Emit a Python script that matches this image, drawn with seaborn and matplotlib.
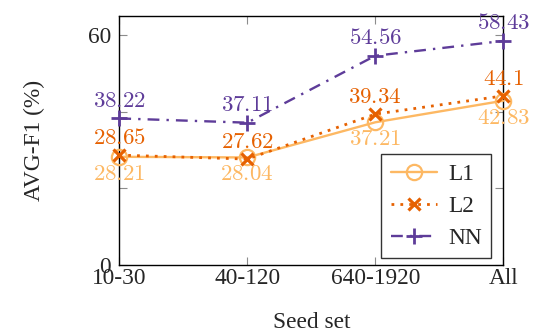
import numpy as np
import pandas as pd
import matplotlib
matplotlib.use("Agg")
import matplotlib.pyplot as plt
import seaborn as sns

categories = ["10-30", "40-120", "640-1920", "All"]
l1_values = [28.21, 28.04, 37.21, 42.83]
l2_values = [28.65, 27.62, 39.34, 44.1]
nn_values = [38.22, 37.11, 54.56, 58.43]
series_names = ["L1", "L2", "NN"]
y_ticks = [0, 20, 40, 60]
y_tick_labels = ["0", "", "", "60"]

sns.set_style("ticks")
plt.rcParams["font.family"] = ["Liberation Serif", "DejaVu Serif"]
plt.rcParams["mathtext.fontset"] = "cm"

colors = {"L1": "#fdb863", "L2": "#e66101", "NN": "#5e3c99"}
styles = {
    "L1": dict(marker="o", markersize=11, markerfacecolor="none", markeredgewidth=1.6,
               linestyle="-", linewidth=1.7),
    "L2": dict(marker="x", markersize=9, markeredgewidth=2.3,
               linestyle=(0, (1, 2.2)), linewidth=2.0),
    "NN": dict(marker="+", markersize=12, markeredgewidth=2.0,
               linestyle=(0, (5, 3, 1, 3)), linewidth=1.7),
}
label_offsets = {"L1": -12.5, "L2": 12, "NN": 12.5}
text_size = 16.8

positions = np.arange(len(categories))
df = pd.DataFrame({
    "pos": np.tile(positions, 3),
    "value": l1_values + l2_values + nn_values,
    "method": np.repeat(series_names, len(categories)),
})

fig = plt.figure(figsize=(5.38, 3.35), dpi=100)
ax = fig.add_axes([0.2217, 0.209, 0.7138, 0.7441])

handles = []
for name in series_names:
    sub = df[df["method"] == name]
    n_before = len(ax.lines)
    sns.lineplot(data=sub, x="pos", y="value", ax=ax, color=colors[name],
                 legend=False)
    line = ax.lines[n_before]
    line.set(label=name, clip_on=False, zorder=3, color=colors[name],
             markeredgecolor=colors[name], **styles[name])
    handles.append(line)
    for x, v in zip(sub["pos"], sub["value"]):
        ax.annotate(f"${v:g}$", (x, v), xytext=(0, label_offsets[name]),
                    textcoords="offset points", ha="center", va="center",
                    color=colors[name], fontsize=16.5, zorder=4,
                    annotation_clip=False)

ax.set_xlim(0, 3)
ax.set_ylim(0, 65)
ax.set_xticks(positions)
ax.set_xticklabels(categories)
ax.set_yticks(y_ticks)
ax.set_yticklabels(y_tick_labels)
ax.tick_params(direction="in", length=6, width=0.8, color="#8c8c8c",
               labelsize=text_size, top=True, right=True)
ax.tick_params(axis="x", pad=2)
ax.tick_params(axis="y", pad=6)
for sp in ax.spines.values():
    sp.set_visible(True)
    sp.set_color("black")
    sp.set_linewidth(1.0)

ax.set_xlabel("Seed set", fontsize=text_size, labelpad=17)
ax.set_ylabel("AVG-F1 (%)", fontsize=text_size, labelpad=31)

leg = ax.legend(handles=handles, loc="lower right", bbox_to_anchor=(0.968, 0.028),
                borderaxespad=0, fontsize=text_size, frameon=True, fancybox=False,
                edgecolor="black", handlelength=2.0, handletextpad=0.45,
                borderpad=0.4, labelspacing=0.45)
leg.get_frame().set_linewidth(1.0)
leg.set_zorder(5)

fig.savefig("out.png", dpi=100)
